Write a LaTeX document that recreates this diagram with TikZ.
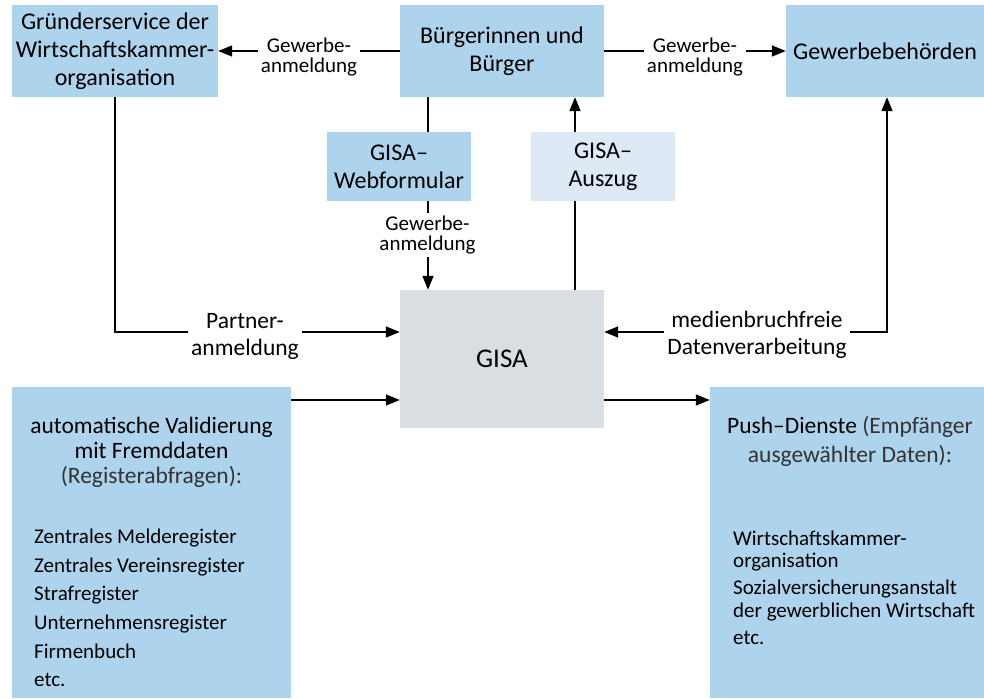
\documentclass[tikz,border=0pt]{standalone}
\usepackage{fontspec}
\setmainfont{Carlito}
\usetikzlibrary{arrows.meta}
\definecolor{boxblue}{HTML}{AED3EC}
\definecolor{boxlight}{HTML}{DDEAF6}
\definecolor{boxgray}{HTML}{D8DEE2}
\definecolor{txtgray}{HTML}{333333}
\begin{document}
\begin{tikzpicture}[x=1pt,y=-1pt,
  box/.style={fill=boxblue, draw=none, inner sep=0pt, align=center,
    font=\fontsize{24}{28}\selectfont, text=black},
  lbl/.style={fill=white, inner sep=3pt, align=center,
    font=\fontsize{21}{20}\selectfont},
  lblbig/.style={fill=white, inner sep=3pt, align=center,
    font=\fontsize{23.5}{27}\selectfont},
  line/.style={anchor=base, inner sep=0pt},
  conn/.style={line width=1.4pt, draw=black},
  arr/.style={conn, -{Triangle[length=14pt,width=11pt]}},
  arrboth/.style={conn, {Triangle[length=14pt,width=11pt]}-{Triangle[length=14pt,width=11pt]}}]
\useasboundingbox (0,0) rectangle (984,698);

% boxes
\node[box, minimum width=206pt, minimum height=92pt] (gruender) at (115,51)
  {Gründerservice der\\Wirtschaftskammer-\\organisation};
\node[box, minimum width=204pt, minimum height=92pt] (buerger) at (502,51)
  {Bürgerinnen und\\Bürger};
\node[box, minimum width=198pt, minimum height=92pt] (behoerde) at (885,51)
  {Gewerbebehörden};
\node[box, minimum width=144pt, minimum height=69pt] (web) at (399,166.5)
  {GISA–\\Webformular};
\node[box, fill=boxlight, minimum width=144pt, minimum height=69pt] (auszug) at (603,166.5)
  {GISA–\\Auszug};
\node[box, fill=boxgray, minimum width=204pt, minimum height=138pt,
  font=\fontsize{27}{30}\selectfont] (gisa) at (502,359) {GISA};
\node[box, minimum width=279pt, minimum height=311pt] (valid) at (151.5,542.5) {};
\node[box, minimum width=274pt, minimum height=311pt] (push) at (847,542.5) {};

% helper coordinates
\coordinate (x428) at (428,0);
\coordinate (x575) at (575,0);
\coordinate (x887) at (887,0);
\coordinate (y332) at (0,332);
\coordinate (y400) at (0,400);

% connectors
\draw[arr] (buerger.west) -- (gruender.east);
\draw[arr] (buerger.east) -- (behoerde.west);
\draw[conn] (buerger.south -| x428) -- (web.north -| x428);
\draw[arr] (web.south -| x428) -- (gisa.north -| x428);
\draw[conn] (gisa.north -| x575) -- (auszug.south -| x575);
\draw[arr] (auszug.north -| x575) -- (buerger.south -| x575);
\draw[arr] (gruender.south) |- (gisa.west |- y332);
\draw[arrboth] (gisa.east |- y332) -| (behoerde.south -| x887);
\draw[arr] (valid.east |- y400) -- (gisa.west |- y400);
\draw[arr] (gisa.east |- y400) -- (push.west |- y400);

% connector labels
\node[lbl] (lblL) at (309,57) {Gewerbe-\\anmeldung};
\node[lbl] (lblR) at (695,57) {Gewerbe-\\anmeldung};
\node[lbl] (lblM) at (427.5,235) {Gewerbe-\\anmeldung};
\node[lblbig] (lblP) at (245,336) {Partner-\\anmeldung};
\node[lblbig] (lblD) at (757,335) {medienbruchfreie\\Datenverarbeitung};

% text in the validation box
\begin{scope}[every node/.style={line, font=\fontsize{23.5}{27}\selectfont}]
\node (v1) at (151.5,433) {automatische Validierung};
\node (v2) at (151.5,458) {mit Fremddaten};
\node[text=txtgray] (v3) at (151.5,483) {(Registerabfragen):};
\node (p1) at (850,433) {Push–Dienste \textcolor{txtgray}{(Empfänger}};
\node[text=txtgray] (p2) at (850,462) {ausgewählter Daten):};
\end{scope}
\begin{scope}[every node/.style={line, anchor=base west, font=\fontsize{21}{25}\selectfont}]
\node (l1) at (34,543) {Zentrales Melderegister};
\node (l2) at (34,572) {Zentrales Vereinsregister};
\node (l3) at (34,600.5) {Strafregister};
\node (l4) at (34,629) {Unternehmensregister};
\node (l5) at (34,658) {Firmenbuch};
\node (l6) at (34,686) {etc.};
\node (q1) at (733,545) {Wirtschaftskammer-};
\node (q2) at (733,567) {organisation};
\node (q3) at (733,594) {Sozialversicherungsanstalt};
\node (q4) at (733,617) {der gewerblichen Wirtschaft};
\node (q5) at (733,644) {etc.};
\end{scope}
\end{tikzpicture}
\end{document}
